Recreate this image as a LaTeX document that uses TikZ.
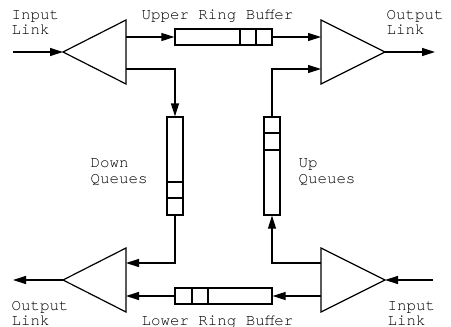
\documentclass[tikz,border=0pt]{standalone}
\usepackage{fontspec}
\setmonofont{TeX Gyre Cursor}
\usetikzlibrary{arrows.meta}
\begin{document}
\begin{tikzpicture}[x=1pt, y=-1pt, line width=1.2pt,
  amp/.style={draw, line join=miter},
  arr/.style={-{Triangle[length=13pt,width=8pt]}},
  lbl/.style={font=\ttfamily\fontsize{15.8}{15.5}\selectfont, align=left,
              inner sep=0pt, anchor=base west},
  hbuf/.style={draw, minimum width=97pt, minimum height=16pt, inner sep=0pt},
  vbuf/.style={draw, minimum width=16pt, minimum height=98pt, inner sep=0pt},
]
\useasboundingbox (0,0) rectangle (451,327);

% amplifiers: upper-left (A), upper-right (B), lower-left (C), lower-right (D)
\draw[amp] (63,52) -- (126,20) -- (126,84) -- cycle;
\draw[amp] (385,52) -- (321,20) -- (321,84) -- cycle;
\draw[amp] (63,280) -- (126,248) -- (126,312) -- cycle;
\draw[amp] (385,280) -- (321,248) -- (321,312) -- cycle;

% ports
\coordinate (Ain)  at (63,52);
\coordinate (Ao1)  at (126,37);
\coordinate (Ao2)  at (126,69);
\coordinate (Bi1)  at (321,37);
\coordinate (Bi2)  at (321,69);
\coordinate (Bout) at (385,52);
\coordinate (Ci1)  at (126,263);
\coordinate (Ci2)  at (126,296);
\coordinate (Cout) at (63,280);
\coordinate (Din)  at (385,280);
\coordinate (Do1)  at (321,263);
\coordinate (Do2)  at (321,296);
\coordinate (linkA) at (13,52);
\coordinate (linkB) at (435,52);
\coordinate (linkC) at (13,280);
\coordinate (linkD) at (433,280);

% ring buffers
\node[hbuf] (urb) at (223.5,37) {};
\draw (240,29) -- (240,45) (256,29) -- (256,45);
\node[hbuf] (lrb) at (223.5,296) {};
\draw (192,288) -- (192,304) (208,288) -- (208,304);

% queues
\node[vbuf] (dq) at (175,166) {};
\draw (167,182) -- (183,182) (167,198) -- (183,198);
\node[vbuf] (uq) at (272,166) {};
\draw (264,133) -- (280,133) (264,150) -- (280,150);

% connectors
\draw[arr] (linkA) -- (Ain);
\draw[arr] (Ao1) -- (urb.west);
\draw[arr] (urb.east) -- (Bi1);
\draw[arr] (Bout) -- (linkB);
\draw[arr] (Ao2) -| (dq.north);
\draw[arr] (uq.north) |- (Bi2);
\draw[arr] (dq.south) |- (Ci1);
\draw[arr] (Do1) -| (uq.south);
\draw[arr] (Do2) -- (lrb.east);
\draw[arr] (lrb.west) -- (Ci2);
\draw[arr] (Cout) -- (linkC);
\draw[arr] (linkD) -- (Din);

% labels (base anchor sits on the last line)
\node[lbl] (tInA)  at (11,34.5)  {Input\\Link};
\node[lbl] (tUrb)  at (141,19)   {Upper Ring Buffer};
\node[lbl] (tOutB) at (386,34.5) {Output\\Link};
\node[lbl] (tDq)   at (90,183)   {Down\\Queues};
\node[lbl] (tUq)   at (298,183)  {Up\\Queues};
\node[lbl] (tOutC) at (11,325.5) {Output\\Link};
\node[lbl] (tLrb)  at (141,325.5){Lower Ring Buffer};
\node[lbl] (tInD)  at (387,325.5){Input\\Link};
\end{tikzpicture}
\end{document}
